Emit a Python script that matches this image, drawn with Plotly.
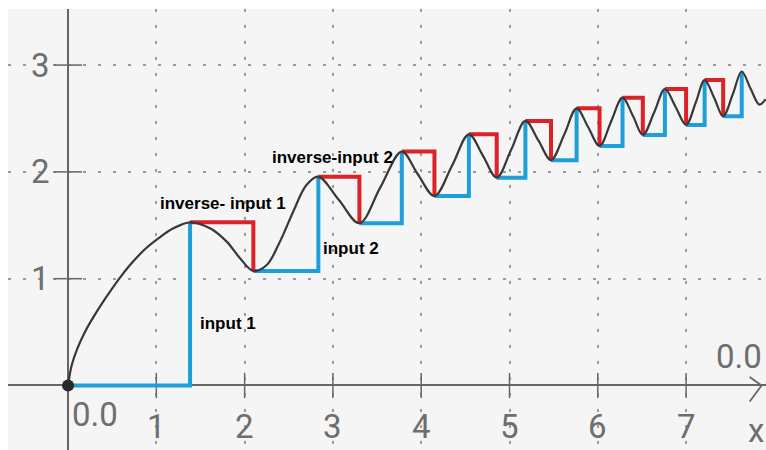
import plotly.graph_objects as go

# Curve
curve_x = [0, 0.042, 0.106, 0.193, 0.287, 0.419, 0.580, 0.702, 0.883, 1.023, 1.193, 1.382,
           1.608, 1.797, 1.948, 2.099, 2.25, 2.40, 2.55, 2.70, 2.835,
           3.07, 3.30, 3.54, 3.78, 3.96, 4.15, 4.35, 4.54, 4.70, 4.855, 5.02, 5.18, 5.33, 5.47,
           5.62, 5.76, 5.89, 6.02, 6.15, 6.28, 6.40, 6.51, 6.64, 6.76, 6.88, 7.00, 7.11, 7.21,
           7.32, 7.42, 7.53, 7.63, 7.73, 7.83, 7.90]
curve_y = [0, 0.192, 0.348, 0.504, 0.64, 0.81, 1.0, 1.128, 1.285, 1.378, 1.472, 1.528,
           1.472, 1.347, 1.191, 1.072, 1.128, 1.347, 1.627, 1.877, 1.955,
           1.735, 1.519, 1.86, 2.19, 1.98, 1.774, 2.06, 2.352, 2.15, 1.946, 2.21, 2.477, 2.29, 2.11,
           2.35, 2.595, 2.42, 2.243, 2.47, 2.695, 2.52, 2.346, 2.56, 2.776, 2.61, 2.44, 2.65, 2.86,
           2.69, 2.52, 2.73, 2.94, 2.78, 2.63, 2.68]

# Staircase corners (peaks and troughs)
peak_x = [1.382, 2.835, 3.78, 4.54, 5.18, 5.76, 6.28, 6.76, 7.21, 7.63]
peak_y = [1.528, 1.955, 2.19, 2.352, 2.477, 2.595, 2.695, 2.776, 2.86, 2.94]
trough_x = [0.0, 2.099, 3.30, 4.15, 4.855, 5.47, 6.02, 6.51, 7.00, 7.42]
trough_y = [0.0, 1.072, 1.519, 1.774, 1.946, 2.11, 2.243, 2.346, 2.44, 2.52]

x_ticks = [1, 2, 3, 4, 5, 6, 7]
y_ticks = [1, 2, 3]

BLUE = "#1c9fdb"
RED = "#da2228"
GRAY_TXT = "#6e6e6e"
NUM_FONT = "Roboto, sans-serif"
NUM_SIZE = 33

fig = go.Figure()

# tick marks on the axes
fig.add_trace(go.Scatter(x=x_ticks, y=[0] * len(x_ticks), mode="markers",
                         marker=dict(symbol="line-ns", size=18, line=dict(width=1.5, color="#666")),
                         hoverinfo="skip", showlegend=False))
fig.add_trace(go.Scatter(x=[0] * len(y_ticks), y=y_ticks, mode="markers",
                         marker=dict(symbol="line-ew", size=20, line=dict(width=1.5, color="#666")),
                         hoverinfo="skip", showlegend=False))

# blue segments: from trough horizontally to next peak x, then up
for i in range(len(peak_x)):
    fig.add_trace(go.Scatter(x=[trough_x[i], peak_x[i], peak_x[i]],
                             y=[trough_y[i], trough_y[i], peak_y[i]],
                             mode="lines", line=dict(color=BLUE, width=4),
                             hoverinfo="skip", showlegend=False))
# red segments: from peak horizontally to next trough x, then down
for i in range(len(peak_x) - 1):
    fig.add_trace(go.Scatter(x=[peak_x[i], trough_x[i + 1], trough_x[i + 1]],
                             y=[peak_y[i], peak_y[i], trough_y[i + 1]],
                             mode="lines", line=dict(color=RED, width=4),
                             hoverinfo="skip", showlegend=False))

# curve
fig.add_trace(go.Scatter(x=curve_x, y=curve_y, mode="lines",
                         line=dict(color="#383838", width=2.2, shape="spline", smoothing=1.0),
                         hoverinfo="skip", showlegend=False))

# origin dot
fig.add_trace(go.Scatter(x=[0], y=[0], mode="markers",
                         marker=dict(color="#2a2a2a", size=12),
                         hoverinfo="skip", showlegend=False))

annotations = []
for t in x_ticks:
    annotations.append(dict(x=t, y=0, text=str(t), showarrow=False, yshift=-41,
                            font=dict(family=NUM_FONT, size=NUM_SIZE, color=GRAY_TXT)))
for t in y_ticks:
    annotations.append(dict(x=0, y=t, text=str(t), showarrow=False, xshift=-28,
                            font=dict(family=NUM_FONT, size=NUM_SIZE, color=GRAY_TXT)))
annotations.append(dict(x=0, y=0, text="0.0", showarrow=False, xanchor="left", xshift=2, yshift=-29,
                        font=dict(family=NUM_FONT, size=NUM_SIZE, color=GRAY_TXT)))
annotations.append(dict(x=7.905, y=0, text="0.0", showarrow=False, xanchor="right", xshift=-2, yshift=29,
                        font=dict(family=NUM_FONT, size=NUM_SIZE, color=GRAY_TXT)))
annotations.append(dict(x=7.905, y=0, text="x", showarrow=False, xanchor="right", xshift=0, yshift=-45,
                        font=dict(family=NUM_FONT, size=NUM_SIZE, color=GRAY_TXT)))

lab_font = dict(family="Liberation Sans", size=17, color="black")
annotations += [
    dict(x=peak_x[0], y=peak_y[0], text="<b>inverse- input 1</b>", showarrow=False,
         xshift=33, yshift=19, font=lab_font),
    dict(x=peak_x[0], y=0.585, text="<b>input 1</b>", showarrow=False, xanchor="left", xshift=8,
         font=lab_font),
    dict(x=peak_x[1], y=peak_y[1], text="<b>inverse-input 2</b>", showarrow=False,
         xshift=14, yshift=19, font=lab_font),
    dict(x=peak_x[1], y=1.287, text="<b>input 2</b>", showarrow=False, xanchor="left", xshift=3,
         font=lab_font),
]

fig.update_layout(
    width=766, height=450,
    margin=dict(l=8, r=0, t=9, b=0),
    paper_bgcolor="white",
    plot_bgcolor="#f5f5f5",
    annotations=annotations,
    shapes=[dict(type="path", xref="x", yref="y",
                 path="M 7.72 0.08 L 7.855 0 L 7.72 -0.15",
                 line=dict(color="#666", width=1.8))],
)
fig.update_xaxes(range=[-0.68, 7.905], showticklabels=False, ticks="",
                 showgrid=True, gridcolor="#9a9a9a", gridwidth=2, griddash="3px,13px",
                 tickvals=x_ticks,
                 zeroline=True, zerolinecolor="#666", zerolinewidth=1.8, showline=False)
fig.update_yaxes(range=[-0.604, 3.525], showticklabels=False, ticks="",
                 showgrid=True, gridcolor="#9a9a9a", gridwidth=2, griddash="3px,12px",
                 tickvals=y_ticks,
                 zeroline=True, zerolinecolor="#666", zerolinewidth=1.8, showline=False)

fig.write_html("out.html", config={"displayModeBar": False},
               post_script="document.body.style.margin='0';document.body.style.overflow='hidden';")
